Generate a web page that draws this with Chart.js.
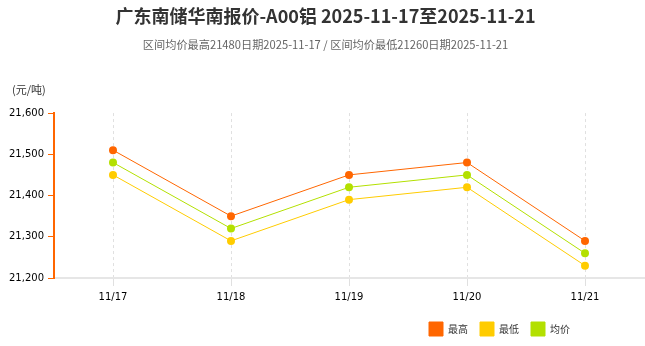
<!DOCTYPE html>
<html>
<head>
<meta charset="utf-8">
<script src="https://cdn.jsdelivr.net/npm/chart.js@4"></script>
<style>
  body { margin: 0; background: #fff; }
  #wrap { width: 645px; height: 346px; }
</style>
</head>
<body>
<div id="wrap"><canvas id="linechart"></canvas></div>
<script>
var labels = ["11/17", "11/18", "11/19", "11/20", "11/21"];
var highPrices = [21510, 21350, 21450, 21480, 21290];
var lowPrices = [21450, 21290, 21390, 21420, 21230];
var avgPrices = [21480, 21320, 21420, 21450, 21260];
var seriesNames = ["最高", "最低", "均价"];
var seriesColors = ["#ff6600", "#ffcc00", "#b3e000"];

var cjk = '"Noto Sans CJK SC", "DejaVu Sans", sans-serif';

// draws the unit text above the y axis, and pulls the legend in from the right edge
var unitLabel = {
    id: 'unitLabel',
    afterLayout: function (chart) {
        if (chart.legend) chart.legend.right -= 62;
    },
    afterDraw: function (chart) {
        var ctx = chart.ctx;
        ctx.save();
        ctx.font = '11px ' + cjk;
        ctx.fillStyle = '#333';
        ctx.textBaseline = 'middle';
        ctx.fillText('(元/吨)', 12, 90);
        ctx.restore();
    }
};

function makeSet(i, data) {
    return {
        label: seriesNames[i],
        data: data,
        borderColor: seriesColors[i],
        backgroundColor: seriesColors[i],
        borderWidth: 1,
        pointRadius: 4,
        pointHoverRadius: 5,
        pointBorderWidth: 0,
        tension: 0,
        fill: false
    };
}

var ctx = document.getElementById("linechart").getContext('2d');
var chart = new Chart(ctx, {
    type: 'line',
    data: {
        labels: labels,
        datasets: [
            makeSet(0, highPrices),
            makeSet(1, lowPrices),
            makeSet(2, avgPrices)
        ]
    },
    options: {
        responsive: true,
        maintainAspectRatio: false,
        animation: false,
        layout: { autoPadding: false, padding: { left: 7, right: 1, top: 0, bottom: 0 } },
        plugins: {
            title: {
                display: true,
                text: '广东南储华南报价-A00铝 2025-11-17至2025-11-21',
                color: '#333',
                font: { family: cjk, size: 18, weight: 'bold' },
                padding: { top: 5, bottom: 6 }
            },
            subtitle: {
                display: true,
                text: '区间均价最高21480日期2025-11-17 / 区间均价最低21260日期2025-11-21',
                color: '#666',
                font: { family: cjk, size: 11.2 },
                padding: { top: 5, bottom: 62 }
            },
            legend: {
                position: 'bottom',
                align: 'end',
                labels: {
                    boxWidth: 14,
                    boxHeight: 14,
                    color: '#333',
                    font: { family: cjk, size: 10 },
                    padding: 12
                }
            },
            tooltip: { enabled: false }
        },
        scales: {
            x: {
                offset: true,
                grid: {
                    offset: false,
                    color: '#e0e0e0',
                    lineWidth: 1,
                    tickLength: 8
                },
                border: { color: '#e6e6e6', width: 2, dash: [3, 3] },
                ticks: {
                    color: '#000',
                    font: { family: '"DejaVu Sans", sans-serif', size: 10 },
                    padding: 5
                },
                afterFit: function (scale) { scale.height += 2; }
            },
            y: {
                min: 21200,
                max: 21600,
                ticks: {
                    stepSize: 100,
                    color: '#000',
                    font: { family: '"DejaVu Sans", sans-serif', size: 10 },
                    padding: 4,
                    callback: function (v) { return v.toLocaleString('en-US'); }
                },
                grid: {
                    drawOnChartArea: false,
                    color: '#ff6600',
                    tickLength: 6
                },
                border: { color: '#ff6600', width: 2 },
                afterFit: function (scale) { scale.width = 47; }
            }
        }
    },
    plugins: [unitLabel]
});
</script>
</body>
</html>
